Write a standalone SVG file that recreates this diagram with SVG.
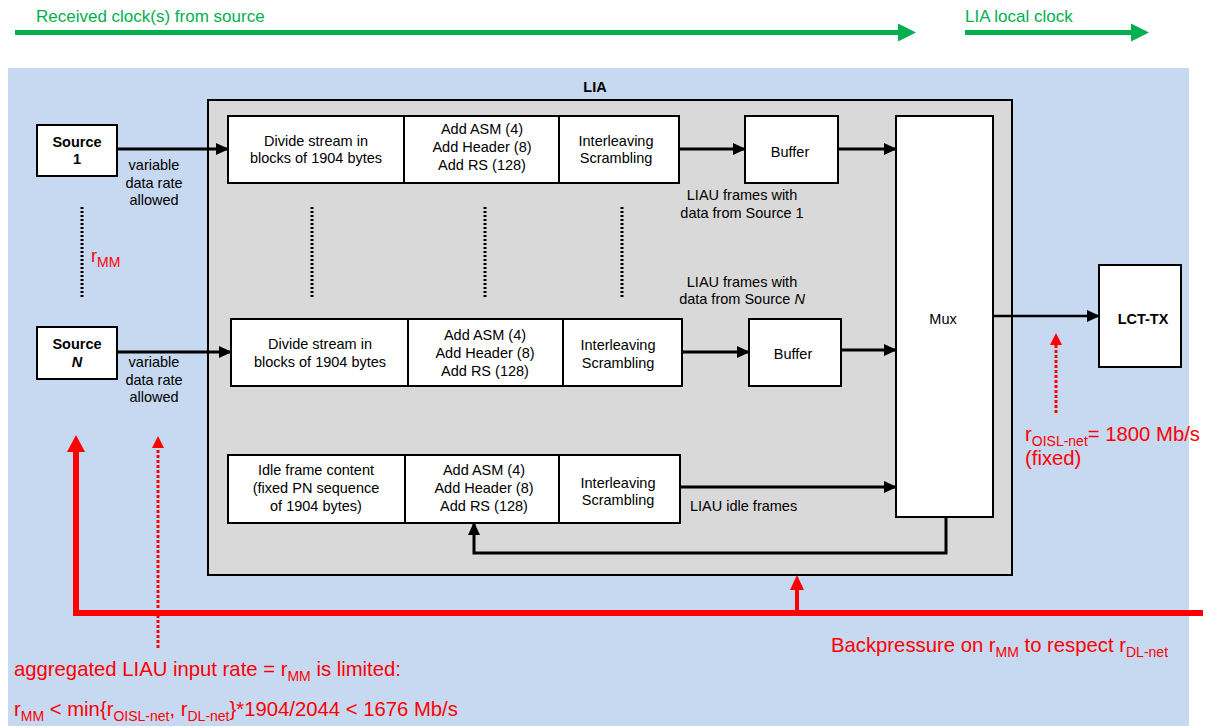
<svg xmlns="http://www.w3.org/2000/svg" width="1208" height="726" viewBox="0 0 1208 726">
<defs>
<style>
text{font-family:"Liberation Sans",Arial,sans-serif;fill:#000}
.t{font-size:14.5px;text-anchor:middle}
.b{font-weight:bold}
.box{fill:#fff;stroke:#000;stroke-width:2}
.con{stroke:#000;stroke-width:3;fill:none}
.dot{stroke:#000;stroke-width:3;stroke-dasharray:2 2;fill:none}
.red{fill:#ff0000;font-size:20.3px}
.grn{fill:#00b050;font-size:17px}
.sub{font-size:14px}
</style>
<marker id="ah" markerWidth="13" markerHeight="12" refX="12" refY="6" orient="auto" markerUnits="userSpaceOnUse"><path d="M0,0 L13,6 L0,12 z" fill="#000"/></marker>
</defs>
<rect x="8" y="68" width="1181" height="658" fill="#c6d9f0"/>
<g id="clocks">
<path d="M15,30 H898 V23.5 L916,32.5 L898,41.5 V35 H15 z" fill="#00b050"/>
<path d="M965,30 H1131 V23.5 L1149,32.5 L1131,41.5 V35 H965 z" fill="#00b050"/>
<text class="grn" x="36" y="22">Received clock(s) from source</text>
<text class="grn" x="965" y="22">LIA local clock</text>
</g>
<g id="lia">
<rect x="208" y="100" width="804" height="475" fill="#d9d9d9" stroke="#000" stroke-width="2"/>
<text class="t b" x="595" y="92">LIA</text>
</g>
<g id="source1">
<rect class="box" x="37" y="125" width="80" height="51"/>
<text class="t b" x="77" y="147">Source</text>
<text class="t b" x="77" y="164">1</text>
</g>
<g id="sourceN">
<rect class="box" x="37" y="327" width="80" height="52"/>
<text class="t b" x="77" y="349">Source</text>
<text class="t b" x="77" y="367" font-style="italic">N</text>
</g>
<g id="labels-var">
<text class="t" x="154" y="170">variable</text>
<text class="t" x="154" y="188">data rate</text>
<text class="t" x="154" y="205">allowed</text>
<text class="t" x="154" y="367">variable</text>
<text class="t" x="154" y="385">data rate</text>
<text class="t" x="154" y="402">allowed</text>
<text font-size="18" x="91" y="262" style="fill:#ff0000">r<tspan class="sub" dy="5">MM</tspan></text>
</g>
<g id="row1">
<rect class="box" x="228" y="116" width="176" height="67"/>
<text class="t" x="316" y="146">Divide stream in</text>
<text class="t" x="316" y="163">blocks of 1904 bytes</text>
<rect class="box" x="404" y="116" width="155" height="67"/>
<text class="t" x="482" y="134">Add ASM (4)</text>
<text class="t" x="482" y="152">Add Header (8)</text>
<text class="t" x="482" y="170">Add RS (128)</text>
<rect class="box" x="559" y="116" width="120" height="67"/>
<text class="t" x="616" y="146">Interleaving</text>
<text class="t" x="616" y="163">Scrambling</text>
</g>
<g id="buffer1">
<rect class="box" x="745" y="116" width="93" height="67"/>
<text class="t" x="790" y="157">Buffer</text>
</g>
<g id="rowN">
<rect class="box" x="231" y="319" width="177" height="67"/>
<text class="t" x="320" y="349">Divide stream in</text>
<text class="t" x="320" y="367">blocks of 1904 bytes</text>
<rect class="box" x="408" y="319" width="155" height="67"/>
<text class="t" x="485" y="340">Add ASM (4)</text>
<text class="t" x="485" y="358">Add Header (8)</text>
<text class="t" x="485" y="376">Add RS (128)</text>
<rect class="box" x="563" y="319" width="119" height="67"/>
<text class="t" x="618" y="350">Interleaving</text>
<text class="t" x="618" y="368">Scrambling</text>
</g>
<g id="bufferN">
<rect class="box" x="749" y="319" width="92" height="67"/>
<text class="t" x="793" y="359">Buffer</text>
</g>
<g id="rowIdle">
<rect class="box" x="228" y="455" width="177" height="68"/>
<text class="t" x="316" y="475">Idle frame content</text>
<text class="t" x="316" y="493">(fixed PN sequence</text>
<text class="t" x="316" y="511">of 1904 bytes)</text>
<rect class="box" x="405" y="455" width="154" height="68"/>
<text class="t" x="484" y="475">Add ASM (4)</text>
<text class="t" x="484" y="493">Add Header (8)</text>
<text class="t" x="484" y="511">Add RS (128)</text>
<rect class="box" x="559" y="455" width="121" height="68"/>
<text class="t" x="618" y="488">Interleaving</text>
<text class="t" x="618" y="505">Scrambling</text>
</g>
<g id="mux">
<rect class="box" x="896" y="116" width="97" height="401"/>
<text class="t" x="943" y="324">Mux</text>
</g>
<g id="lcttx">
<rect class="box" x="1099" y="265" width="82" height="102"/>
<text class="t b" x="1143" y="324">LCT-TX</text>
</g>
<g id="frame-labels">
<text class="t" x="742" y="200">LIAU frames with</text>
<text class="t" x="742" y="218">data from Source 1</text>
<text class="t" x="742" y="287">LIAU frames with</text>
<text class="t" x="742" y="304">data from Source <tspan font-style="italic">N</tspan></text>
<text class="t" x="690" y="511" style="text-anchor:start">LIAU idle frames</text>
</g>
<g id="connectors">
<line class="con" x1="117" y1="149" x2="228" y2="149" marker-end="url(#ah)"/>
<line class="con" x1="117" y1="352" x2="231" y2="352" marker-end="url(#ah)"/>
<line class="con" x1="679" y1="149" x2="745" y2="149" marker-end="url(#ah)"/>
<line class="con" x1="682" y1="352" x2="749" y2="352" marker-end="url(#ah)"/>
<line class="con" x1="838" y1="149" x2="896" y2="149" marker-end="url(#ah)"/>
<line class="con" x1="841" y1="350" x2="896" y2="350" marker-end="url(#ah)"/>
<line class="con" x1="680" y1="487" x2="896" y2="487" marker-end="url(#ah)"/>
<polyline class="con" points="946,517 946,553 474,553 474,523" marker-end="url(#ah)"/>
<line x1="993" y1="316" x2="1099" y2="316" stroke="#000" stroke-width="2.5" marker-end="url(#ah)"/>
<line class="dot" x1="82" y1="207" x2="82" y2="298"/>
<line class="dot" x1="312" y1="207" x2="312" y2="298"/>
<line class="dot" x1="485" y1="207" x2="485" y2="298"/>
<line class="dot" x1="622" y1="207" x2="622" y2="298"/>
<polyline points="76,447 76,613 1203,613" fill="none" stroke="#ff0000" stroke-width="6"/>
<path d="M67,452 L76,435 L85,452 z" fill="#ff0000"/>
<line x1="797" y1="613" x2="797" y2="586" stroke="#ff0000" stroke-width="4"/>
<path d="M790,590 L797,575 L804,590 z" fill="#ff0000"/>
<line x1="158" y1="648" x2="158" y2="446" stroke="#ff0000" stroke-width="3" stroke-dasharray="3 2"/>
<path d="M152,448 L158,436 L164,448 z" fill="#ff0000"/>
<line x1="1056" y1="413" x2="1056" y2="344" stroke="#ff0000" stroke-width="3" stroke-dasharray="3 2"/>
<path d="M1050,345 L1056,333 L1062,345 z" fill="#ff0000"/>
</g>
<g id="red-labels">
<text class="red" x="1025" y="441">r<tspan class="sub" dy="5">OISL-net</tspan><tspan dy="-5">= 1800 Mb/s</tspan></text>
<text class="red" x="1025" y="465">(fixed)</text>
<text class="red" x="831" y="652">Backpressure on r<tspan class="sub" dy="5">MM</tspan><tspan dy="-5"> to respect r</tspan><tspan class="sub" dy="5">DL-net</tspan></text>
<text class="red" x="14" y="676">aggregated LIAU input rate = r<tspan class="sub" dy="5">MM</tspan><tspan dy="-5"> is limited:</tspan></text>
<text class="red" x="14" y="716">r<tspan class="sub" dy="5">MM</tspan><tspan dy="-5"> &lt; min{r</tspan><tspan class="sub" dy="5">OISL-net</tspan><tspan dy="-5">, r</tspan><tspan class="sub" dy="5">DL-net</tspan><tspan dy="-5">}*1904/2044 &lt; 1676 Mb/s</tspan></text>
</g>
</svg>
